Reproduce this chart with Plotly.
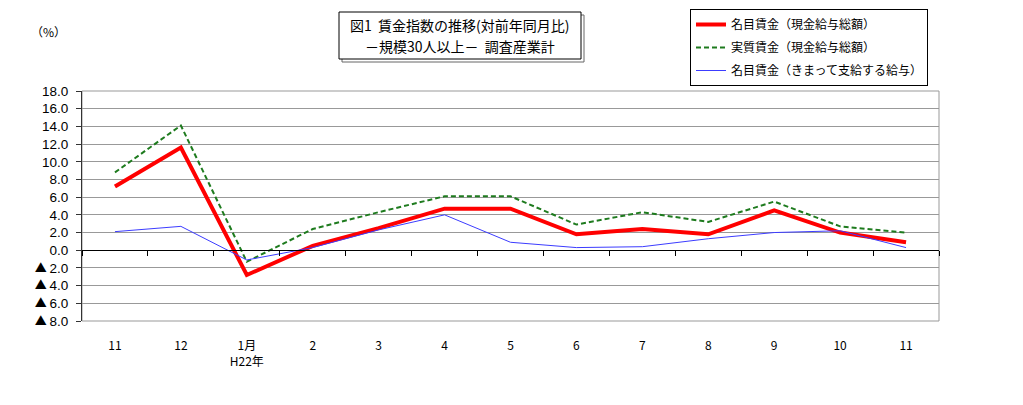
import plotly.graph_objects as go

categories = ["11", "12", "1月", "2", "3", "4", "5", "6", "7", "8", "9", "10", "11 "]
tick_labels = ["11", "12", "1月<br>H22年", "2", "3", "4", "5", "6", "7", "8", "9", "10", "11"]
nominal_total = [7.2, 11.6, -2.8, 0.5, 2.5, 4.7, 4.7, 1.8, 2.4, 1.8, 4.5, 2.0, 0.9]
real_total = [8.8, 14.1, -1.3, 2.4, 4.3, 6.1, 6.1, 2.9, 4.3, 3.2, 5.5, 2.7, 2.0]
nominal_regular = [2.1, 2.7, -1.1, 0.3, 2.3, 4.0, 0.9, 0.3, 0.4, 1.3, 2.0, 2.2, 0.3]
y_ticks = [18, 16, 14, 12, 10, 8, 6, 4, 2, 0, -2, -4, -6, -8]
TRI = "<span style=\"font-family:'Noto Sans CJK JP';font-size:12px\">▲ </span>"
y_tick_text = [f"{v:.1f}" if v >= 0 else f"{TRI}{abs(v):.1f}" for v in y_ticks]
title_lines = ["図1  賃金指数の推移(対前年同月比)", "－規模30人以上－  調査産業計"]

FONT = "Liberation Sans, Noto Sans CJK JP, sans-serif"
JFONT = "Noto Sans CJK JP, sans-serif"

OFF = 8  # default page body margin
FW, FH = 1023 - OFF, 405 - OFF
L, R, T, B = 82, 939, 91, 321  # page pixel coords of plot area
W, H = R - L, B - T


def px(xp):
    return (xp - L) / W


def py(yp):
    return (B - yp) / H


fig = go.Figure()
fig.add_trace(go.Scatter(x=categories, y=nominal_total, mode="lines",
                         name="名目賃金（現金給与総額）", legendgroup="a",
                         line=dict(color="#FF0000", width=4)))
fig.add_trace(go.Scatter(x=categories, y=real_total, mode="lines",
                         name="実質賃金（現金給与総額）", legendgroup="b",
                         line=dict(color="#1E7B1E", width=2, dash="5px,3px")))
fig.add_trace(go.Scatter(x=categories, y=nominal_regular, mode="lines",
                         name="名目賃金（きまって支給する給与）", legendgroup="c",
                         line=dict(color="#3C3CFF", width=1)))
fig.add_trace(go.Scatter(x=categories, y=[None]*len(categories), xaxis="x2",
                         showlegend=False, hoverinfo="skip"))

fig.update_layout(
    width=FW, height=FH,
    margin=dict(l=L - OFF, r=FW - (R - OFF), t=T - OFF, b=FH - (B - OFF), autoexpand=False),
    paper_bgcolor="white", plot_bgcolor="white",
    font=dict(family=FONT, size=12, color="black"),
    xaxis=dict(type="category", categoryorder="array", categoryarray=categories,
               tickmode="array", tickvals=categories, ticktext=tick_labels,
               showgrid=False, ticks="", showline=False, zeroline=False,
               ticklabelstandoff=16, tickfont=dict(family=JFONT, size=12),
               range=[-0.5, len(categories) - 0.5]),
    xaxis2=dict(type="category", categoryorder="array", categoryarray=categories,
                overlaying="x", anchor="free", position=8/26,
                showline=True, linecolor="black", linewidth=1,
                ticks="outside", ticklen=5, tickcolor="black",
                tickson="boundaries", showticklabels=False, showgrid=False,
                range=[-0.5, len(categories) - 0.5]),
    yaxis=dict(range=[-8, 18], tickmode="array", tickvals=y_ticks, ticktext=y_tick_text,
               showgrid=True, gridcolor="#999999", gridwidth=1,
               showline=True, linecolor="#333333", linewidth=1,
               ticks="outside", ticklen=5, tickcolor="#333333",
               ticklabelstandoff=5,
               zeroline=False, tickfont=dict(size=13.5)),
    legend=dict(x=px(690), y=py(9), xanchor="left", yanchor="top",
                bordercolor="black", borderwidth=1, bgcolor="white",
                font=dict(family=JFONT, size=12), tracegroupgap=4,
                traceorder="grouped", itemwidth=30),
    showlegend=True,
)

fig.add_shape(type="rect", xref="x domain", yref="y domain", x0=0, x1=1, y0=0, y1=1,
              line=dict(color="#999999", width=1), layer="below")

fig.add_shape(type="rect", xref="paper", yref="paper",
              x0=px(342), x1=px(584), y0=py(62), y1=py(15),
              line=dict(color="#666666", width=1), fillcolor="white")
fig.add_shape(type="rect", xref="paper", yref="paper",
              x0=px(339), x1=px(581), y0=py(59), y1=py(12),
              line=dict(color="black", width=1), fillcolor="white")
fig.add_annotation(xref="paper", yref="paper", x=px(460), y=py(25),
                   xanchor="center", yanchor="middle", text=title_lines[0],
                   showarrow=False, font=dict(family=JFONT, size=14))
fig.add_annotation(xref="paper", yref="paper", x=px(460), y=py(46),
                   xanchor="center", yanchor="middle", text=title_lines[1],
                   showarrow=False, font=dict(family=JFONT, size=14))

fig.add_annotation(xref="paper", yref="paper", x=px(48), y=py(32),
                   xanchor="center", yanchor="middle",
                   text="（%）", showarrow=False, font=dict(family=JFONT, size=12))

fig.write_html("out.html")
